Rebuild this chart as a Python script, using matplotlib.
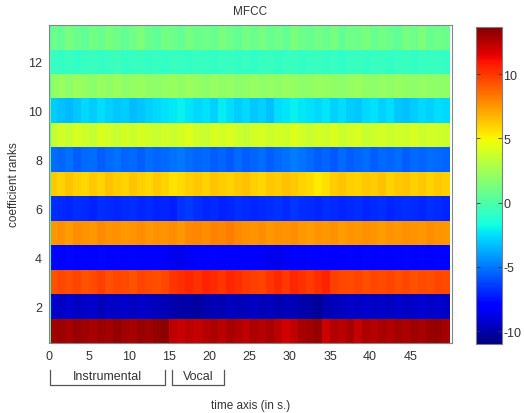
import numpy as np
import matplotlib
matplotlib.use("Agg")
import matplotlib.pyplot as plt
from matplotlib.transforms import blended_transform_factory

plt.rcParams['font.family'] = ['Liberation Sans', 'DejaVu Sans']
plt.rcParams['axes.unicode_minus'] = False

# time bin edges (s): a short first frame then 1 s bins
time_edges = [0, 0.3] + list(range(1, 51))
first_frame = 0.0  # value of all coefficients in the very first frame

coef1 = [12.9,13.1,12.8,13.2,13.0,12.8,13.1,12.9,13.3,13.0,12.8,13.2,13.0,13.3,13.4,12.3,12.1,12.4,12.2,12.5,12.7,12.4,12.8,12.6,12.3,12.7,12.5,12.8,12.4,11.9,12.3,12.8,13.0,13.2,12.0,12.6,12.4,12.8,12.2,12.7,12.5,12.8,12.6,12.9,12.7,13.0,12.8,13.1,13.2,12.9]
coef2 = [-9.3,-9.5,-9.2,-9.6,-9.4,-9.3,-9.7,-9.4,-9.5,-9.3,-9.6,-9.4,-9.5,-9.7,-9.8,-10.0,-10.2,-10.1,-10.3,-10.0,-9.8,-9.9,-9.6,-9.8,-9.7,-9.5,-9.8,-9.6,-9.9,-9.7,-9.8,-10.0,-10.2,-10.5,-9.9,-9.7,-9.6,-9.4,-9.5,-9.3,-9.5,-9.4,-9.6,-9.3,-9.5,-9.4,-9.2,-9.4,-9.3,-9.5]
coef3 = [9.3,9.6,9.4,9.7,9.3,9.5,9.8,9.4,9.6,9.5,9.3,9.7,9.5,9.4,9.6,10.1,10.3,10.5,10.2,10.6,10.4,10.1,10.5,10.3,10.0,9.8,9.7,10.1,10.4,10.0,10.5,10.2,9.9,10.3,10.6,9.8,9.6,9.5,9.7,9.4,9.6,9.5,9.7,9.4,9.6,9.3,9.5,9.4,9.6,9.5]
coef4 = [-7.9,-8.0,-7.8,-8.1,-7.9,-8.0,-7.8,-8.0,-7.9,-8.1,-7.9,-8.0,-8.1,-8.2,-8.3,-8.5,-8.6,-8.4,-8.2,-8.0,-7.9,-8.1,-8.0,-8.2,-8.1,-8.0,-8.3,-8.5,-8.6,-8.4,-8.2,-8.3,-8.1,-8.0,-7.9,-8.0,-8.1,-7.9,-8.0,-7.8,-8.0,-7.9,-8.1,-7.9,-7.8,-8.0,-7.9,-8.1,-7.9,-8.0]
coef5 = [7.5,7.7,7.4,7.8,7.6,7.5,7.9,7.6,7.7,7.5,7.6,7.8,7.5,7.7,7.6,7.8,7.5,7.9,8.0,7.8,8.1,8.0,8.2,7.9,7.7,7.6,7.8,7.5,7.7,7.6,7.8,7.5,7.4,7.6,7.5,7.7,7.4,7.6,7.5,7.7,7.6,7.4,7.6,7.5,7.7,7.6,7.5,7.8,7.6,7.5]
coef6 = [-6.8,-6.9,-7.0,-6.8,-6.9,-7.1,-6.8,-6.9,-7.0,-6.9,-6.8,-7.0,-6.9,-7.1,-7.0,-7.2,-6.7,-6.5,-6.8,-7.0,-6.9,-7.1,-7.0,-6.8,-6.9,-7.0,-6.9,-6.8,-6.7,-6.9,-6.6,-6.8,-6.9,-7.0,-6.8,-6.9,-7.0,-6.9,-6.8,-7.0,-6.9,-6.8,-7.0,-6.9,-6.8,-6.9,-7.0,-6.8,-6.9,-7.0]
coef7 = [6.2,5.9,6.3,6.0,5.8,6.2,5.9,6.4,6.1,5.9,6.3,6.0,5.8,6.2,5.9,5.5,5.7,6.0,6.2,5.9,6.3,6.1,5.9,6.2,6.4,6.0,5.8,6.2,6.1,6.4,6.2,5.9,5.7,5.4,5.6,6.1,6.3,6.0,5.9,6.2,6.1,6.4,5.9,6.2,6.3,6.0,6.2,5.9,6.2,6.0]
coef8 = [-5.3,-5.5,-5.2,-5.6,-5.4,-5.3,-5.6,-5.4,-5.2,-5.5,-5.4,-5.6,-5.3,-5.5,-5.4,-5.2,-5.0,-5.3,-5.5,-5.4,-5.6,-5.5,-5.7,-5.4,-5.6,-5.5,-5.3,-5.6,-5.4,-5.2,-4.9,-5.1,-5.4,-5.6,-5.5,-5.7,-5.4,-5.6,-5.5,-5.3,-5.6,-5.4,-5.5,-5.3,-5.6,-5.4,-5.5,-5.3,-5.4,-5.5]
coef9 = [3.5,3.9,3.6,4.1,3.8,3.5,4.2,3.9,3.6,4.0,3.7,4.1,3.8,3.6,3.9,3.7,4.0,4.3,3.8,3.6,4.1,3.9,4.2,3.8,3.5,3.9,4.1,3.7,4.0,3.8,4.3,3.9,3.6,4.0,3.8,4.2,3.7,3.9,4.1,3.6,3.8,4.0,3.7,3.9,3.8,4.1,3.7,3.9,3.8,3.7]
coef10 = [-2.9,-3.2,-3.4,-3.0,-2.7,-2.9,-2.6,-2.8,-3.0,-2.9,-3.3,-3.1,-2.8,-2.7,-2.5,-2.3,-2.1,-2.4,-2.7,-2.5,-2.8,-2.2,-2.6,-2.9,-2.7,-3.0,-2.8,-3.2,-2.6,-2.4,-2.1,-2.3,-2.5,-2.7,-2.4,-2.8,-2.6,-2.9,-3.0,-2.7,-2.5,-2.8,-2.6,-3.0,-3.2,-2.9,-2.7,-2.8,-2.6,-2.7]
coef11 = [2.0,2.2,1.9,2.3,2.1,1.8,2.2,2.0,2.3,1.9,2.1,2.2,2.0,1.9,2.1,2.2,2.0,2.3,2.1,1.9,2.2,2.0,2.1,1.8,2.0,2.2,1.9,2.1,2.0,2.2,2.1,1.9,2.0,2.2,2.1,2.0,1.9,2.1,2.2,2.0,1.9,2.1,2.0,2.2,2.0,1.9,2.1,2.0,1.9,2.0]
coef12 = [-0.7,-0.8,-0.6,-0.9,-0.7,-0.6,-0.8,-0.7,-0.5,-0.8,-0.7,-0.6,-0.8,-0.7,-0.9,-0.6,-0.7,-0.8,-0.6,-0.7,-0.8,-0.7,-0.6,-0.8,-0.7,-0.9,-0.7,-0.6,-0.8,-0.7,-0.6,-0.8,-0.7,-0.6,-0.8,-0.7,-0.9,-0.7,-0.6,-0.8,-0.7,-0.6,-0.8,-0.7,-0.6,-0.8,-0.7,-0.6,-0.7,-0.8]
coef13 = [0.9,0.6,1.2,0.8,0.5,1.1,0.7,1.3,0.9,0.6,1.0,1.4,0.8,0.5,1.1,0.9,0.6,1.2,0.8,1.0,0.7,1.3,0.9,0.6,1.1,0.8,1.2,0.7,1.0,0.6,1.3,0.9,0.7,1.1,0.8,1.2,0.6,1.0,0.9,1.3,0.7,1.1,0.8,0.5,1.2,0.9,1.4,0.7,1.0,0.8]

coefficients = [coef1, coef2, coef3, coef4, coef5, coef6, coef7, coef8, coef9,
                coef10, coef11, coef12, coef13]
ranks = np.arange(1, len(coefficients) + 1)

segments = [("Instrumental", 0.1, 14.5), ("Vocal", 15.3, 21.8)]

clim = (-11.0, 13.7)

Z = np.array([[first_frame] + c for c in coefficients])
y_edges = np.append(ranks - 0.5, ranks[-1] + 0.5)

fig = plt.figure(figsize=(5.24, 4.14), dpi=100)
ax = fig.add_axes([0.0935, 0.169, 0.769, 0.768])
cax = fig.add_axes([0.908, 0.167, 0.0496, 0.766])

mesh = ax.pcolormesh(time_edges, y_edges, Z, cmap='jet', vmin=clim[0], vmax=clim[1],
                     shading='flat')
ax.set_xlim(0, 50.2)
ax.set_ylim(0.5, 13.5)
ax.set_xticks([0, 5, 10, 15, 20, 25, 30, 35, 40, 45])
ax.set_yticks([2, 4, 6, 8, 10, 12])
ax.tick_params(length=0, labelsize=9, labelcolor='#333333', pad=5)
for s in ax.spines.values():
    s.set_color('#7f8a86')
    s.set_linewidth(0.8)
ax.set_title('MFCC', fontsize=8.5, color='#333333', pad=8)
ax.set_ylabel('coefficient ranks', fontsize=8.5, color='#333333', labelpad=6)
ax.set_xlabel('time axis (in s.)', fontsize=8.5, color='#333333')
ax.xaxis.set_label_coords(0.5, -0.175)

cb = fig.colorbar(mesh, cax=cax, ticks=[-10, -5, 0, 5, 10])
cb.ax.tick_params(direction='in', length=3, width=0.6, color='#333333',
                  labelsize=9, labelcolor='#333333', pad=1, left=True, right=True)
cb.outline.set_edgecolor('#7f7f7f')
cb.outline.set_linewidth(0.8)

trans = blended_transform_factory(ax.transData, ax.transAxes)
for name, x0, x1 in segments:
    ax.plot([x0, x0, x1, x1], [-0.085, -0.132, -0.132, -0.085], color='#555555',
            lw=0.9, transform=trans, clip_on=False)
    ax.text((x0 + x1) / 2, -0.103, name, transform=trans, ha='center', va='center',
            fontsize=9, color='#333333')

fig.savefig('out.png', dpi=100)
